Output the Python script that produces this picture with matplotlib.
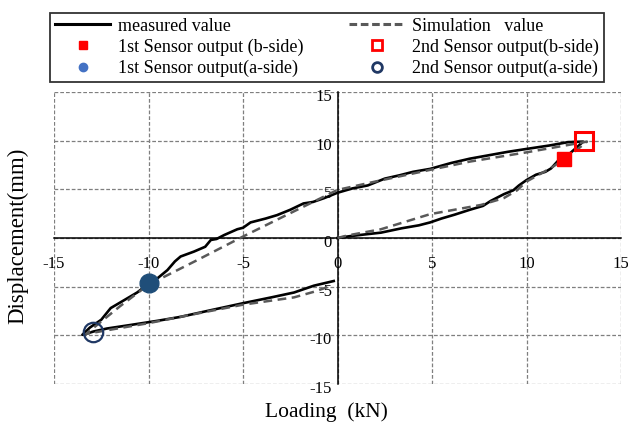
import matplotlib
matplotlib.use('Agg')
import matplotlib.pyplot as plt
import matplotlib.transforms as mtransforms
from matplotlib.lines import Line2D

plt.rcParams['font.family'] = ['Liberation Serif', 'DejaVu Serif']
plt.rcParams['axes.unicode_minus'] = False

# measured hysteresis loop: loading, unloading, reverse loading, reverse unloading
measured_x = [0.0, 0.7, 1.6, 2.3, 3.4, 4.3, 4.9, 5.5, 6.2, 7.0, 7.7, 8.1, 8.8, 9.3, 9.6, 10.0,
              10.5, 11.0, 11.3, 11.7, 12.3, 13.0,
              12.2, 11.2, 10.0, 9.0, 8.0, 7.0, 6.0, 4.9, 4.0, 3.3, 2.5, 1.6, 0.8, 0.0,
              -0.7, -1.3, -1.8, -2.5, -3.2, -3.8, -4.6, -5.0, -5.3, -6.0, -6.4, -6.7, -7.0,
              -7.6, -8.3, -8.6, -9.0, -9.5, -10.0, -10.6, -11.3, -12.0, -12.5, -13.1, -13.5,
              -12.9, -12.2, -11.0, -9.5, -8.3, -6.9, -5.0, -3.5, -2.3, -1.25, -0.2]
measured_y = [0.0, 0.2, 0.4, 0.55, 1.0, 1.3, 1.6, 2.0, 2.4, 2.9, 3.3, 3.8, 4.5, 4.9, 5.4, 5.95,
              6.5, 6.8, 7.15, 8.0, 8.7, 9.9,
              9.85, 9.5, 9.15, 8.85, 8.5, 8.15, 7.7, 7.1, 6.8, 6.45, 6.1, 5.4, 5.1, 4.65,
              4.1, 3.7, 3.55, 2.9, 2.35, 2.0, 1.6, 1.05, 0.9, 0.3, -0.1, -0.2, -0.9,
              -1.4, -1.9, -2.4, -3.3, -4.1, -4.7, -5.6, -6.4, -7.2, -8.4, -9.2, -9.95,
              -9.6, -9.3, -8.95, -8.5, -8.1, -7.5, -6.7, -6.1, -5.6, -4.9, -4.42]

# simulated loop
sim_x = [0.0, 0.5, 2.3, 4.9, 7.6, 8.8, 9.5, 10.0, 11.3, 12.3, 13.2,
         10.0, 7.0, 4.9, 2.0, 0.0, -2.5, -5.0, -7.5, -10.0, -11.5, -13.3,
         -10.0, -7.0, -5.0, -2.3, -1.2, -0.4]
sim_y = [0.0, 0.25, 0.9, 2.45, 3.4, 4.1, 4.9, 5.8, 7.2, 8.5, 9.9,
         8.8, 7.85, 7.0, 5.8, 4.94, 2.55, 0.15, -2.35, -4.8, -7.0, -9.85,
         -8.75, -7.6, -6.85, -6.1, -5.5, -4.95]

# sensor readings
s1_b = (12.0, 8.1)
s2_b = (13.05, 9.95)
s1_a = (-10.0, -4.6)
s2_a = (-12.95, -9.7)

ticks = [-15, -10, -5, 0, 5, 10, 15]

fig = plt.figure(figsize=(6.28, 4.26), dpi=100)
ax = fig.add_axes([54 / 628, 42 / 426, 567 / 628, 292 / 426])

ax.plot(measured_x, measured_y, color='black', lw=1.9, zorder=3, solid_joinstyle='round')
ax.plot(sim_x, sim_y, color='#595959', lw=1.8, ls=(0, (3.5, 2.2)), zorder=3)

ax.plot(*s1_b, marker='s', ms=10.5, color='#ff0000', ls='none', zorder=5)
ax.plot(*s2_b, marker='s', ms=13.5, mfc='none', mec='#ff0000', mew=2.2, ls='none', zorder=5)
ax.plot(*s1_a, marker='o', ms=13.5, color='#1f4e79', ls='none', zorder=5)
ax.plot(*s2_a, marker='o', ms=14, mfc='none', mec='#203864', mew=1.6, ls='none', zorder=5)

ax.set_xlim(-15, 15)
ax.set_ylim(-15, 15)
ax.set_xticks(ticks)
ax.set_yticks(ticks)
ax.set_xticklabels([str(t) for t in ticks])
ax.set_yticklabels([str(t) for t in ticks])

ax.grid(True, color='#7f7f7f', ls=(0, (3, 1.6)), lw=0.9)
ax.set_axisbelow(True)

for side in ['top', 'right']:
    ax.spines[side].set_visible(False)
ax.spines['left'].set_position(('data', 0))
ax.spines['bottom'].set_position(('data', 0))
for side in ['left', 'bottom']:
    ax.spines[side].set_color('black')
    ax.spines[side].set_linewidth(1.1)
    ax.spines[side].set_zorder(2)

ax.tick_params(axis='both', length=0, labelsize=12)
ax.tick_params(axis='x', pad=13)
ax.tick_params(axis='y', pad=4)

shift = mtransforms.ScaledTranslation(0, -3 / 100, fig.dpi_scale_trans)
for lab in ax.get_yticklabels():
    lab.set_transform(lab.get_transform() + shift)

fig.text(18 / 628, 1 - 236 / 426, 'Displacement(mm)', rotation=90, fontsize=16.5,
         ha='center', va='center')
fig.text(326 / 628, 1 - 412 / 426, 'Loading  (kN)', fontsize=15.5, ha='center', va='center')

handles = [
    Line2D([], [], color='black', lw=2.2),
    Line2D([], [], marker='s', ms=6, color='#ff0000', ls='none'),
    Line2D([], [], marker='o', ms=6, color='#4472c4', ls='none'),
    Line2D([], [], color='#595959', lw=2.2, ls=(0, (2.5, 1.2))),
    Line2D([], [], marker='s', ms=7, mfc='none', mec='#ff0000', mew=2, ls='none'),
    Line2D([], [], marker='o', ms=7, mfc='none', mec='#203864', mew=2, ls='none'),
]
labels = [
    'measured value',
    '1st Sensor output (b-side)',
    '1st Sensor output(a-side)',
    'Simulation   value',
    '2nd Sensor output(b-side)',
    '2nd Sensor output(a-side)',
]
leg = fig.legend(handles, labels, ncol=2, loc='upper left',
                 bbox_to_anchor=(50 / 628, 1 - 13 / 426), fontsize=13,
                 frameon=True, fancybox=False, handlelength=3.1, handletextpad=0.4,
                 columnspacing=2.55, labelspacing=0.22, borderpad=0.25, borderaxespad=0)
leg.get_frame().set_edgecolor('black')
leg.get_frame().set_linewidth(1.3)

fig.savefig('out.png', dpi=100)
